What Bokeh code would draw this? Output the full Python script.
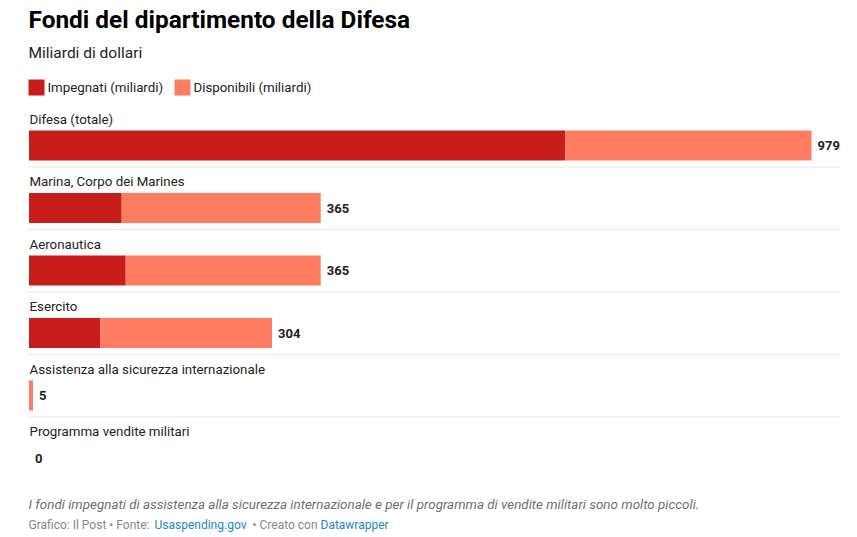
from bokeh.plotting import figure
from bokeh.models import Range1d, ColumnDataSource
from bokeh.core.properties import value
from bokeh.embed import file_html
from bokeh.resources import INLINE

# ---- data ----
categories = ["Difesa (totale)", "Marina, Corpo dei Marines", "Aeronautica", "Esercito",
              "Assistenza alla sicurezza internazionale", "Programma vendite militari"]
impegnati = [671, 116, 121, 89, 0, 0]
disponibili = [308, 249, 244, 215, 5, 0]
totali = ["979", "365", "365", "304", "5", "0"]
series_names = ["Impegnati (miliardi)", "Disponibili (miliardi)"]
series_colors = ["#c71e1d", "#ff7b61"]

title = "Fondi del dipartimento della Difesa"
subtitle = "Miliardi di dollari"
note = "I fondi impegnati di assistenza alla sicurezza internazionale e per il programma di vendite militari sono molto piccoli."
credit_parts = ["Grafico: Il Post • Fonte:", "Usaspending.gov", "• Creato con", "Datawrapper"]

# ---- layout (canvas pixels) ----
W, H = 857, 537
x0_px, x_full_px, x_full_val = 28.5, 811.0, 979.0
k = (x_full_px - x0_px) / x_full_val
first_center, step, bar_h = 145.0, 62.5, 30

n = len(categories)
centers = [first_center + i * step for i in range(n)]
totals_num = [a + b for a, b in zip(impegnati, disponibili)]

p = figure(width=W, height=H,
           x_range=Range1d(-x0_px / k, (W - x0_px) / k),
           y_range=Range1d(H, 0),
           x_axis_type=None, y_axis_type=None,
           min_border=0, toolbar_location=None, output_backend="svg")
p.grid.visible = False
p.outline_line_color = None
p.background_fill_color = "white"
p.border_fill_color = "white"
p.extra_x_ranges = {"px": Range1d(0, W)}

FONT = value("Roboto")

src = ColumnDataSource(dict(y=centers, imp=impegnati, disp=disponibili,
                            tot=totals_num, lab=totali))

p.hbar_stack(["imp", "disp"], y="y", height=bar_h, color=series_colors,
             line_width=0, source=src)

# value labels
p.text(x="tot", y="y", text="lab", source=src, x_offset=6,
       text_font=FONT, text_font_style="bold", text_font_size="13px",
       text_color="#222222", text_baseline="middle", text_align="left")

# category labels
lab_src = ColumnDataSource(dict(x=[29] * n, y=[c - 26.5 for c in centers], t=categories))
p.text(x="x", y="y", text="t", source=lab_src, x_range_name="px",
       text_font=FONT, text_font_size="13.3px", text_color="#222222",
       text_baseline="middle", text_align="left")

# separators (between rows)
sep_y = [c + 21.5 for c in centers[:-1]]
p.segment(x0=[28] * len(sep_y), x1=[840] * len(sep_y), y0=sep_y, y1=sep_y,
          x_range_name="px", line_color="#cccccc", line_width=1, line_dash="1 1")

# title / subtitle
p.text(x=[28], y=[18.5], text=[title], x_range_name="px", text_font=FONT,
       text_font_style="bold", text_font_size="24.4px", text_color="#000000",
       text_baseline="middle")
p.text(x=[28], y=[52], text=[subtitle], x_range_name="px", text_font=FONT,
       text_font_size="15.5px", text_color="#222222", text_baseline="middle")

# legend
leg_x = [28, 174]
p.rect(x=[lx + 8 for lx in leg_x], y=[87] * 2, width=16, height=16,
       x_range_name="px", fill_color=series_colors, line_color=None)
p.text(x=[lx + 19 for lx in leg_x], y=[87] * 2, text=series_names, x_range_name="px",
       text_font=FONT, text_font_size="13.3px", text_color="#222222",
       text_baseline="middle")

# footer
p.text(x=[28], y=[504], text=[note], x_range_name="px", text_font=FONT,
       text_font_style="italic", text_font_size="13.4px", text_color="#6f6f6f",
       text_baseline="middle")
credit_x = [28, 154, 252, 320]
credit_col = ["#888888", "#1b87c9", "#888888", "#1b87c9"]
p.text(x=credit_x, y=[524.5] * 4, text=credit_parts, x_range_name="px",
       text_font=FONT, text_font_size="12px", text_color=credit_col,
       text_baseline="middle")

open("out.html", "w").write(file_html(p, INLINE))
